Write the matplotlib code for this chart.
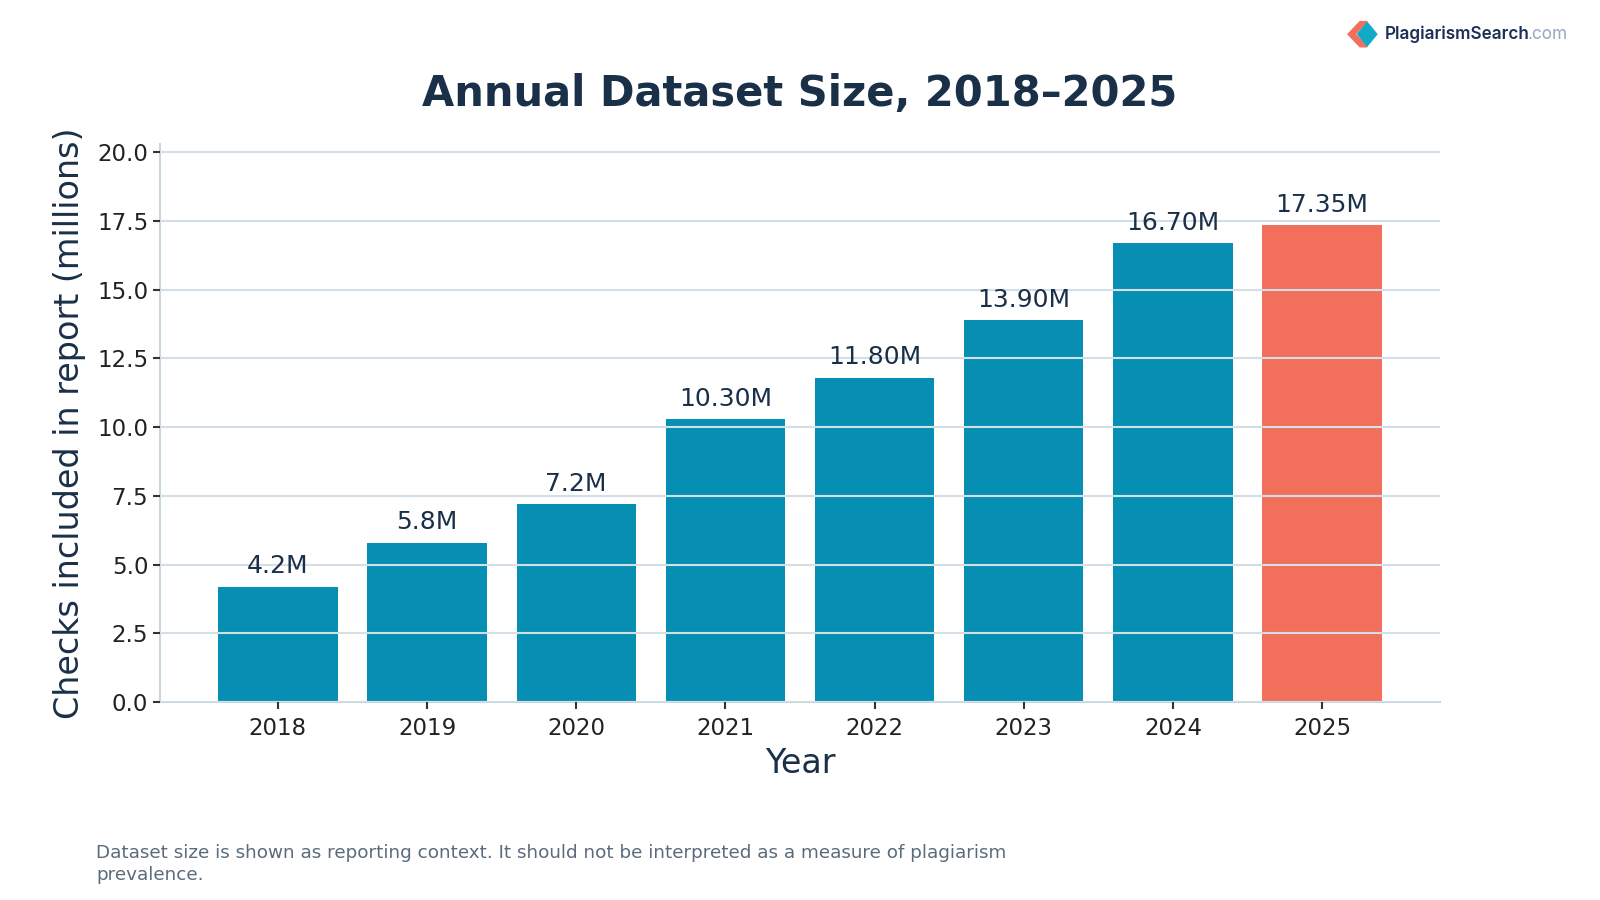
import matplotlib.pyplot as plt
from matplotlib.patches import Polygon

# data
years = ['2018', '2019', '2020', '2021', '2022', '2023', '2024', '2025']
checks = [4.2, 5.8, 7.2, 10.30, 11.80, 13.90, 16.70, 17.35]
value_labels = ['4.2M', '5.8M', '7.2M', '10.30M', '11.80M', '13.90M', '16.70M', '17.35M']

TEAL = '#068fb3'
CORAL = '#f2705b'
NAVY = '#1a3049'
GRID = '#d3dee6'

colors = [TEAL] * (len(years) - 1) + [CORAL]

fig = plt.figure(figsize=(16, 9), dpi=100)
ax = fig.add_axes([0.1, 0.22, 0.8, 0.62])

x = range(len(years))
bars = ax.bar(x, checks, width=0.8, color=colors, zorder=1)
ax.set_ylim(0, max(checks) * 1.17)
ax.set_xticks(list(x))
ax.set_xticklabels(years)
yt = [0, 2.5, 5, 7.5, 10, 12.5, 15, 17.5, 20]
ax.set_yticks(yt)
ax.set_yticklabels(['%.1f' % v for v in yt])

ax.yaxis.grid(True, color=GRID, linewidth=1.5, zorder=2)
ax.set_axisbelow(False)
for s in ['top', 'right']:
  ax.spines[s].set_visible(False)
for s in ['left', 'bottom']:
  ax.spines[s].set_color('#c8d6e0')
  ax.spines[s].set_linewidth(1.5)
ax.tick_params(axis='both', labelsize=16.5, colors='#333333', labelcolor='#222222', length=5, width=1.5)
ax.tick_params(axis='x', pad=6)

for b, lab in zip(bars, value_labels):
  ax.annotate(lab, (b.get_x() + b.get_width() / 2, b.get_height()),
              xytext=(0, 6), textcoords='offset points',
              ha='center', va='bottom', fontsize=18, color=NAVY)

ax.set_xlabel('Year', fontsize=24, color=NAVY, labelpad=5)
ax.set_ylabel('Checks included in report (millions)', fontsize=24, color=NAVY, labelpad=8)

fig.text(0.5, 0.895, 'Annual Dataset Size, 2018\u20132025', ha='center', va='center',
         fontsize=30, fontweight='bold', color=NAVY)

fig.text(0.06, 0.04,
         'Dataset size is shown as reporting context. It should not be interpreted as a measure of plagiarism\nprevalence.',
         ha='left', va='center', fontsize=13.2, color='#5b6b7c', linespacing=1.25)

# logo
fig.patches.append(Polygon([[0.8425, 0.962], [0.8500, 0.976], [0.8545, 0.976], [0.8470, 0.962],
                            [0.8545, 0.948], [0.8500, 0.948]], closed=True,
                           transform=fig.transFigure, color=CORAL))
fig.patches.append(Polygon([[0.8485, 0.962], [0.8545, 0.975], [0.8605, 0.962], [0.8545, 0.949]],
                           closed=True, transform=fig.transFigure, color='#12a9c7'))
fig.text(0.8655, 0.962, 'PlagiarismSearch', ha='left', va='center', fontsize=12.3,
         fontweight='semibold', color='#1e2f55', family='Inter')
fig.text(0.9545, 0.962, '.com', ha='left', va='center', fontsize=12.3, color='#9aa6bf', family='Inter')

fig.savefig('out.png', dpi=100)
